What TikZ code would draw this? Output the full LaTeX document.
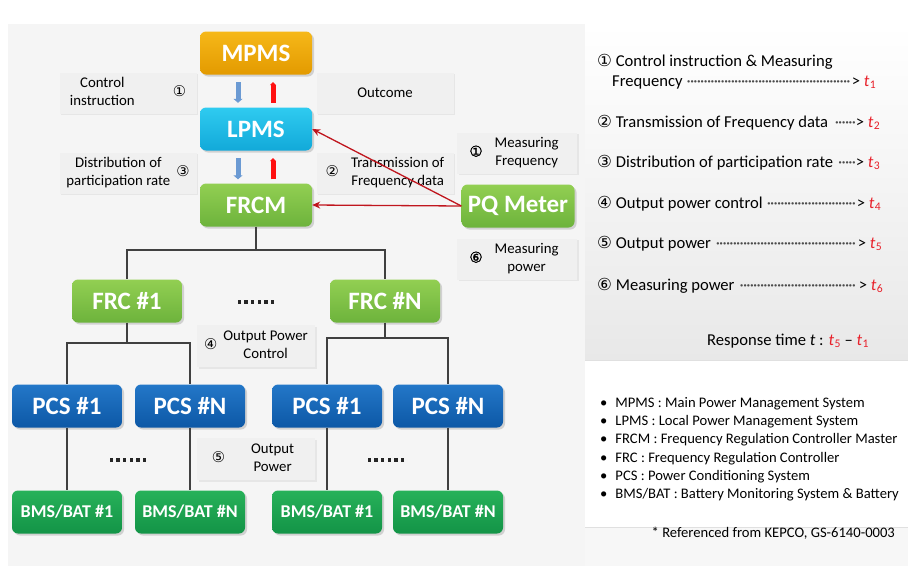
\documentclass[tikz,border=0pt]{standalone}
\usepackage{fontspec}
\setmainfont{Carlito}
\newfontfamily\circfont{DejaVu Sans}
\newfontfamily\circbold{DejaVu Sans}[FakeBold=1.5]
\usetikzlibrary{arrows.meta,shadows}

\definecolor{mpmsA}{HTML}{F6B819}
\definecolor{mpmsB}{HTML}{E39A00}
\definecolor{lpmsA}{HTML}{2FCBF0}
\definecolor{lpmsB}{HTML}{12A9D9}
\definecolor{limeA}{HTML}{92CF52}
\definecolor{limeB}{HTML}{6DB33C}
\definecolor{pcsA}{HTML}{2377C8}
\definecolor{pcsB}{HTML}{0D58A6}
\definecolor{batA}{HTML}{27B159}
\definecolor{batB}{HTML}{139447}
\definecolor{cmdblue}{HTML}{6B9AD3}
\definecolor{ackred}{HTML}{FF1010}
\definecolor{fdred}{HTML}{C0161E}
\definecolor{tred}{HTML}{E8202A}

\newcommand\cnum[1]{{\circfont #1}}
\newcommand\cbold[1]{{\circbold #1}}
\newcommand\dotlead{\leaders\hbox to 3.4pt{\hss\textcolor{black!70}{\textperiodcentered}\hss}\hfill}
\newcommand\tm[1]{\textcolor{tred}{\textit{t}\kern.3pt\textsubscript{#1}}}
\newcommand\twoline[2]{\begin{tabular}{@{}c@{}}#1\\#2\end{tabular}}
\newcommand\sq{\rule{3.4pt}{3.4pt}}
\newcommand\moredots{\sq\kern3.2pt\sq\kern3.2pt\sq\kern3.2pt\sq\kern3.2pt\sq\kern3.2pt\sq}

\begin{document}
\begin{tikzpicture}[x=1pt,y=-1pt,
    unit/.style={rounded corners=6pt, minimum width=110pt, minimum height=43pt, inner sep=0pt,
      text=white, font=\bfseries\fontsize{25}{25}\selectfont,
      drop shadow={opacity=.3, shadow xshift=2pt, shadow yshift=-2pt}},
    orangebox/.style={unit, top color=mpmsA, bottom color=mpmsB, minimum width=112pt},
    cyanbox/.style={unit, top color=lpmsA, bottom color=lpmsB, minimum width=112pt},
    limebox/.style={unit, top color=limeA, bottom color=limeB},
    bluebox/.style={unit, top color=pcsA, bottom color=pcsB},
    greenbox/.style={unit, top color=batA, bottom color=batB, font=\bfseries\fontsize{18}{18}\selectfont},
    tag/.style={fill=black!6, minimum width=137pt, minimum height=41pt, inner sep=0pt, align=center,
      font=\fontsize{14.8}{18}\selectfont,
      drop shadow={opacity=.12, shadow xshift=1.5pt, shadow yshift=-1.5pt}},
    bus/.style={draw=black!75, line width=1.6pt},
    feed/.style={draw=fdred, line width=1.3pt, -{Stealth[length=8pt,width=7pt]}},
    down/.style={draw=cmdblue, line width=5pt, -{Triangle[length=4pt,width=9pt]}},
    up/.style={draw=ackred, line width=5pt, -{Triangle[length=3pt,width=6pt]}},
    more/.style={inner sep=0pt, text=black!85},
    row/.style={anchor=base west, inner sep=0pt, font=\fontsize{16.6}{19}\selectfont},
    defn/.style={anchor=base west, inner sep=0pt, font=\fontsize{14.6}{17}\selectfont}
  ]
  \useasboundingbox (0,0) rectangle (908,570);
  \fill[black!4] (8,24) rectangle (585,566);
  \shade[top color=white, bottom color=black!9] (585,24) rectangle (908,360);
  \draw[black!12] (585,360) -- (908,360);
  \fill[white] (585,368) rectangle (908,527);
  \fill[black!3] (585,528) rectangle (908,566);
  \draw[black!12] (585,527) -- (908,527);

  \node[orangebox] (mpms) at (256,53) {MPMS};
  \node[cyanbox] (lpms) at (256,129) {LPMS};
  \node[limebox, minimum width=112pt] (frcm) at (256,205) {FRCM};
  \node[limebox, minimum width=113pt] (pq) at (518,206) {PQ Meter};

  \node[tag] (ctl) at (128,93) {\twoline{Control}{instruction}\hspace{38pt}\cnum{①}};
  \node[tag] (outc) at (385,93) {Outcome};
  \node[tag] (dist) at (128,173) {\twoline{Distribution of}{participation rate}\hspace{6pt}\cnum{③}};
  \node[tag] (trans) at (385,173) {\cnum{②}\hspace{12pt}\twoline{Transmission of}{Frequency data}};
  \node[tag, minimum width=120pt] (mfreq) at (517,153) {\cbold{①}\hspace{12pt}\twoline{Measuring}{Frequency}\hspace{6pt}};
  \node[tag, minimum width=120pt] (mpow) at (517,259) {\cbold{⑥}\hspace{12pt}\twoline{Measuring}{power}\hspace{6pt}};

  \draw[down] ([xshift=-18pt,yshift=-7.5pt]mpms.south) -- ([xshift=-18pt,yshift=4.5pt]lpms.north);
  \draw[up] ([xshift=17pt,yshift=4.5pt]lpms.north) -- ([xshift=17pt,yshift=-7.5pt]mpms.south);
  \draw[down] ([xshift=-18pt,yshift=-7.5pt]lpms.south) -- ([xshift=-18pt,yshift=4pt]frcm.north);
  \draw[up] ([xshift=17pt,yshift=4pt]frcm.north) -- ([xshift=17pt,yshift=-7.5pt]lpms.south);
  \draw[feed] (pq.west) -- (lpms.east);
  \draw[feed] (pq.west) -- (frcm.east);

  \node[limebox] (frc1) at (127,301) {FRC \#1};
  \node[limebox] (frcn) at (385,301) {FRC \#N};
  \node[more] (dotsA) at (256,302) {\moredots};
  \node[tag, minimum width=118pt, minimum height=42pt] (opc) at (256,346) {\cnum{④}\hspace{6pt}\twoline{Output Power}{Control}};

  \node[bluebox] (pcs1) at (67,406) {PCS \#1};
  \node[bluebox] (pcs2) at (190,406) {PCS \#N};
  \node[bluebox] (pcs3) at (327,406) {PCS \#1};
  \node[bluebox] (pcs4) at (448,406) {PCS \#N};
  \node[tag, minimum width=118pt, minimum height=42pt] (opw) at (256,459) {\cnum{⑤}\hspace{26pt}\twoline{Output}{Power}\hspace{6pt}};
  \node[more] (dotsB) at (128,460) {\moredots};
  \node[more] (dotsC) at (386,460) {\moredots};

  \node[greenbox] (bat1) at (67,512) {BMS/BAT \#1};
  \node[greenbox] (bat2) at (190,512) {BMS/BAT \#N};
  \node[greenbox] (bat3) at (327,512) {BMS/BAT \#1};
  \node[greenbox] (bat4) at (448,512) {BMS/BAT \#N};

  \coordinate (j0) at (frcm.south |- 0,250);
  \coordinate (j1) at (frc1.south |- 0,343);
  \coordinate (j2) at (frcn.south |- 0,338);
  \draw[bus] (frcm.south) -- (j0);
  \draw[bus] (j0) -| (frc1.north);
  \draw[bus] (j0) -| (frcn.north);
  \draw[bus] (frc1.south) -- (j1);
  \draw[bus] (j1) -| (pcs1.north);
  \draw[bus] (j1) -| (pcs2.north);
  \draw[bus] (frcn.south) -- (j2);
  \draw[bus] (j2) -| (pcs3.north);
  \draw[bus] (j2) -| (pcs4.north);
  \draw[bus] (pcs1) -- (bat1);
  \draw[bus] (pcs2) -- (bat2);
  \draw[bus] (pcs3) -- (bat3);
  \draw[bus] (pcs4) -- (bat4);

  \node[row] (r1) at (597,66) {\cnum{①} Control instruction \& Measuring};
  \node[row] (r1b) at (612,86) {\hbox to 264pt{Frequency \dotlead\textgreater\ \tm{1}}};
  \node[row] (r2) at (597,127) {\hbox to 283pt{\cnum{②} Transmission of Frequency data \dotlead\textgreater\ \tm{2}}};
  \node[row] (r3) at (597,167) {\hbox to 283pt{\cnum{③} Distribution of participation rate \dotlead\textgreater\ \tm{3}}};
  \node[row] (r4) at (597,208) {\hbox to 284pt{\cnum{④} Output power control \dotlead\textgreater\ \tm{4}}};
  \node[row] (r5) at (597,248) {\hbox to 285pt{\cnum{⑤} Output power \dotlead\textgreater\ \tm{5}}};
  \node[row] (r6) at (597,290) {\hbox to 286pt{\cnum{⑥} Measuring power \dotlead\textgreater\ \tm{6}}};
  \node[row] (resp) at (707,345) {Response time \textit{t} : \tm{5} -- \tm{1}};

  \foreach \txt [count=\i] in {MPMS : Main Power Management System,
      LPMS : Local Power Management System,
      FRCM : Frequency Regulation Controller Master,
      FRC : Frequency Regulation Controller,
      PCS : Power Conditioning System,
      BMS/BAT : Battery Monitoring System \& Battery}
    \node[defn] (def\i) at (600,389+18.3*\i) {\textbullet\hspace{8pt}\txt};
  \node[defn, anchor=base east] (src) at (895,537) {* Referenced from KEPCO, GS-6140-0003};
\end{tikzpicture}
\end{document}
